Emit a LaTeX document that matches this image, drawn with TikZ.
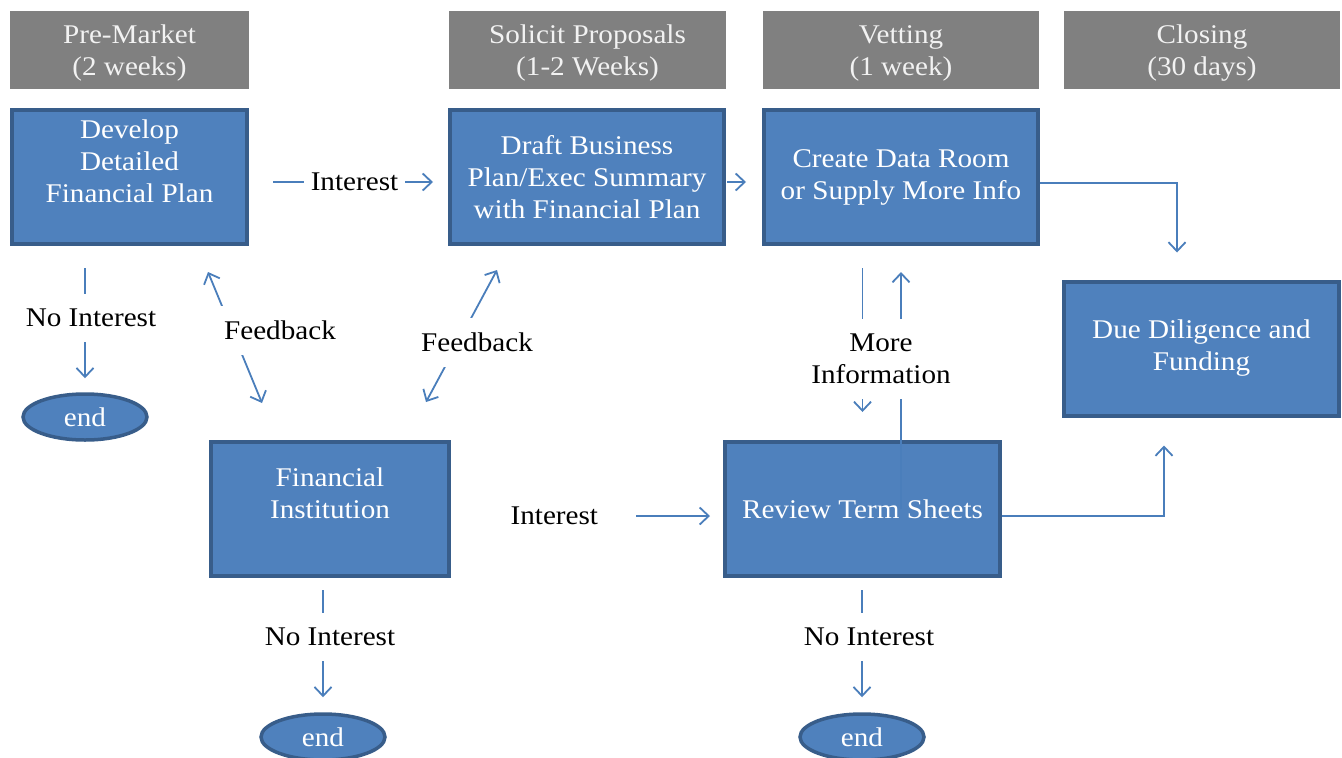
\documentclass[tikz,border=0pt]{standalone}
\usepackage{fontspec}
\setmainfont{Liberation Serif}[FakeStretch=1.08]
\usetikzlibrary{arrows.meta,shapes.geometric}
\definecolor{boxblue}{HTML}{4F81BD}
\definecolor{boxedge}{HTML}{385D8A}
\definecolor{linkblue}{HTML}{4A7EBB}
\definecolor{phasegray}{HTML}{808080}
\tikzset{
  phase/.style={fill=phasegray, text=white!95!black, align=center, minimum height=78pt, inner sep=0pt},
  box/.style={fill=boxblue, draw=boxedge, line width=4pt, text=white, align=center,
    minimum width=#1, minimum height=134pt, inner sep=0pt},
  stop/.style={ellipse, fill=boxblue, draw=boxedge, line width=3.5pt, text=white,
    minimum width=124pt, minimum height=46pt, inner sep=0pt},
  link/.style={draw=linkblue, line width=1.8pt},
  gap/.style={fill=white, text=black, align=center, inner xsep=8pt, inner ysep=15pt}
}
\begin{document}
\begin{tikzpicture}[x=1pt, y=-1pt, font=\fontsize{27}{32}\selectfont, >={Straight Barb[length=9pt,width=17pt]}]
    \useasboundingbox (0,0) rectangle (1342,758);
    % phases
    \foreach \n/\x/\w/\t in {pre/129.5/239/{Pre-Market\\(2 weeks)}, sol/587.5/277/{Solicit Proposals\\(1-2 Weeks)},
        vet/901/276/{Vetting\\(1 week)}, clo/1202/276/{Closing\\(30 days)}} {
      \node[phase, minimum width=\w pt] (\n) at (\x,50) {\rule{0pt}{25pt}\t};
    }

    % steps
    \node[box=235pt] (develop) at (129.5,177) {Develop\\Detailed\\Financial Plan\\~};
    \node[box=274pt] (draft) at (587,177) {Draft Business\\Plan/Exec Summary\\with Financial Plan};
    \node[box=274pt] (create) at (901,177) {Create Data Room\\or Supply More Info};
    \node[box=275pt] (due) at (1201.5,348.5) {Due Diligence and\\Funding};
    \node[box=238pt] (fin) at (330,509) {Financial\\Institution\\~};
    \node[box=275pt] (review) at (862.5,509) {Review Term Sheets};

    % ends
    \node[stop] (end1) at (85,417) {end};
    \node[stop] (end2) at (323,737) {end};
    \node[stop] (end3) at (862,737) {end};

    % interest / no interest
    \draw[link, shorten <=24pt, shorten >=15pt, ->] ([yshift=-5pt]develop.east) -- node[gap, pos=0.53, inner xsep=7pt] (int1) {Interest} ([yshift=-5pt]draft.west);
    \draw[link, shorten <=1pt, shorten >=16pt, ->] ([yshift=-5pt]draft.east) -- ([yshift=-5pt]create.west);
    \draw[link, shorten >=27pt, ->] ([yshift=-6pt]create.east) -| ([xshift=-24.5pt]due.north);
    \draw[link, shorten <=22pt, shorten >=14pt, ->] (end1 |- develop.south) -- node[gap, pos=0.49, xshift=6pt] (noint1) {No Interest} (end1.north);
    \draw[link, shorten <=22pt, shorten >=13pt, ->] ([yshift=-7pt]fin.east) -- node[gap, pos=0.38, inner xsep=38pt] (int2) {Interest} ([yshift=-7pt]review.west);
    \draw[link, shorten <=12pt, shorten >=15pt, ->] (end2 |- fin.south) -- node[gap, pos=0.44, xshift=7pt] (noint2) {No Interest} (end2.north);
    \draw[link, shorten <=12pt, shorten >=15pt, ->] (end3 |- review.south) -- node[gap, pos=0.44, xshift=7pt] (noint3) {No Interest} (end3.north);
    \draw[link, shorten >=28pt, ->] ([yshift=-7pt]review.east) -| ([xshift=-37.5pt]due.south);

    % feedback
    \draw[link, <->] ([shift={(-41,26)}]develop.south east) -- ([shift={(53,-37)}]fin.north west);
    \node[gap] (fb1) at (280,330) {Feedback};
    \draw[link, <->] ([shift={(49,24)}]draft.south west) -- ([shift={(-25,-38)}]fin.north east);
    \node[gap] (fb2) at (477,342) {Feedback};

    % more information
    \draw[link, shorten <=22pt, shorten >=28pt, ->] (review.north |- create.south) -- (review.north);
    \draw[link, shorten >=26pt, ->] (create.south |- review.center) -- (create.south);
    \node[gap] (more) at (881,359) {More\\Information};
\end{tikzpicture}
\end{document}
